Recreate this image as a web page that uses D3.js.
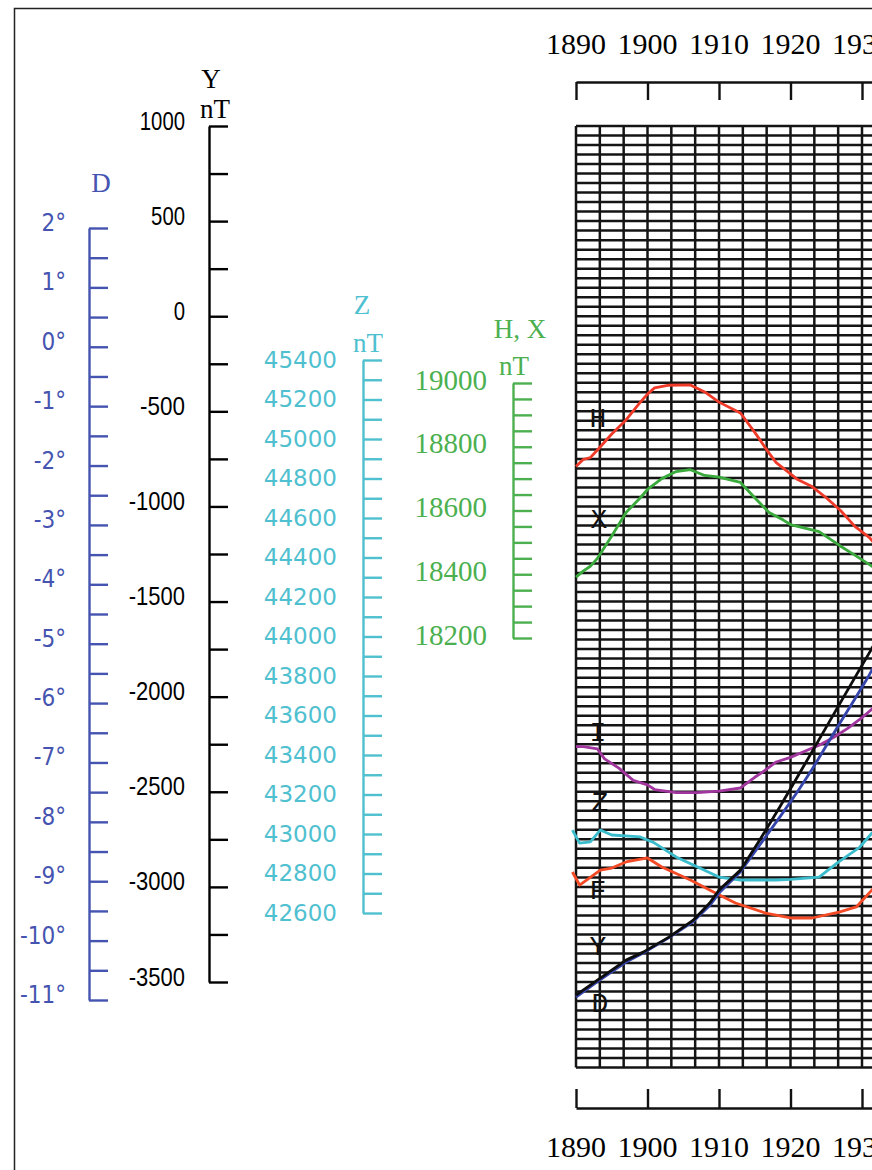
<!DOCTYPE html>
<html lang="en">
    <head>
        <script src="https://d3js.org/d3.v7.min.js"></script>
        <meta charset="UTF-8">
        <title>Geomagnetic secular variation</title>
        <style>
            body {
            margin: 0;
            background-color: #ffffff;
            overflow: hidden;
            }
            .axis path, .axis line {
            stroke: #111;
            stroke-width: 2.4;
            }
            .grid line {
            stroke: #141414;
            stroke-width: 2.5;
            }
            .curve {
            fill: none;
            stroke-width: 2.8;
            stroke-linejoin: round;
            }
        </style>
    </head>
    <body>
        <div id="chart"></div>

        <script>
            // years and values
            const yearTicks = [1890, 1900, 1910, 1920, 1930, 1940, 1950, 1960, 1970, 1980, 1990, 2000];

            const hYears = [1890, 1891, 1892, 1893, 1895, 1897, 1899, 1900, 1901, 1903, 1906, 1908, 1910, 1913, 1915, 1917, 1918, 1920, 1921, 1923, 1925, 1927, 1929, 1931, 1932];
            const hValues = [18738, 18760, 18766, 18790, 18840, 18884, 18940, 18965, 18985, 18993, 18994, 18972, 18940, 18906, 18845, 18780, 18750, 18715, 18697, 18675, 18640, 18600, 18550, 18516, 18490];

            const xYears = [1890, 1891, 1892, 1893, 1895, 1897, 1899, 1900, 1902, 1904, 1906, 1908, 1910, 1913, 1915, 1917, 1919, 1920, 1922, 1924, 1927, 1929, 1931, 1932];
            const xValues = [18391, 18410, 18425, 18450, 18520, 18594, 18640, 18666, 18700, 18722, 18728, 18710, 18705, 18688, 18640, 18594, 18570, 18556, 18545, 18534, 18488, 18460, 18431, 18415];

            const iYears = [1890, 1891, 1893, 1894, 1896, 1898, 1900, 1901, 1904, 1907, 1910, 1913, 1915, 1916, 1918, 1920, 1922, 1924, 1926, 1928, 1930, 1931, 1932];
            const iValues = [66.44, 66.44, 66.425, 66.36, 66.30, 66.22, 66.19, 66.16, 66.14, 66.14, 66.15, 66.17, 66.24, 66.27, 66.34, 66.37, 66.41, 66.45, 66.50, 66.56, 66.63, 66.67, 66.71];

            const zYears = [1889.5, 1890.5, 1892, 1893.4, 1895, 1899, 1901, 1904, 1907, 1910, 1913, 1918, 1920, 1924, 1926.5, 1929.7, 1931.4, 1932];
            const zValues = [43020, 42954, 42960, 43020, 42995, 42985, 42954, 42884, 42833, 42782, 42767, 42767, 42770, 42782, 42853, 42934, 43005, 43030];

            const fYears = [1889.5, 1890.5, 1893.4, 1895, 1897, 1900, 1902, 1906, 1909.5, 1912.3, 1916.5, 1920.2, 1923, 1926.8, 1929.2, 1931.4, 1932];
            const fValues = [46914, 46848, 46924, 46934, 46965, 46985, 46939, 46873, 46808, 46757, 46706, 46681, 46681, 46711, 46737, 46823, 46850];

            const yYears = [1890, 1893, 1897, 1899.4, 1903, 1906.4, 1908.7, 1910, 1913, 1915.7, 1918.5, 1921, 1923, 1925, 1927, 1929, 1931, 1932];
            const yValues = [-3569, -3490, -3385, -3343, -3264, -3175, -3085, -3017, -2912, -2754, -2580, -2420, -2290, -2160, -2030, -1900, -1771, -1705];

            const dYears = [1890, 1893, 1897, 1899.4, 1903, 1906.4, 1908.7, 1910, 1913, 1915.7, 1918.5, 1921, 1923, 1925, 1927, 1929, 1931, 1932];
            const dValues = [-10.95, -10.69, -10.36, -10.21, -9.95, -9.68, -9.41, -9.2, -8.84, -8.39, -7.92, -7.49, -7.12, -6.72, -6.32, -5.93, -5.53, -5.31];

            const dTicks = [2, 1, 0, -1, -2, -3, -4, -5, -6, -7, -8, -9, -10, -11];
            const yTicks = [1000, 500, 0, -500, -1000, -1500, -2000, -2500, -3000, -3500];
            const zTicks = [45400, 45200, 45000, 44800, 44600, 44400, 44200, 44000, 43800, 43600, 43400, 43200, 43000, 42800, 42600];
            const hxTicks = [19000, 18800, 18600, 18400, 18200];

            const width = 872;
            const height = 1170;

            const svg = d3.select("#chart")
                          .append("svg")
                          .attr("width", width)
                          .attr("height", height);

            // outer frame
            svg.append("rect")
               .attr("x", 14.5)
               .attr("y", 8.5)
               .attr("width", 1000)
               .attr("height", 1300)
               .attr("fill", "none")
               .attr("stroke", "#222")
               .attr("stroke-width", 1.5);

            const xScale = d3.scaleLinear().domain([1890, 1930]).range([576, 862]);
            const yScaleY = d3.scaleLinear().domain([1000, -3500]).range([126, 982]);
            const dScale = d3.scaleLinear().domain([2, -11]).range([228, 1000]);
            const zScale = d3.scaleLinear().domain([45400, 42600]).range([360, 913]);
            const hxScale = d3.scaleLinear().domain([19000, 18200]).range([383, 638]);
            const iScale = d3.scaleLinear().domain([67, 66]).range([661, 814]);
            const fScale = d3.scaleLinear().domain([47000, 46000]).range([855, 1052.5]);

            // grid
            const gridLeft = xScale(1890);
            const gridRight = xScale(2000);
            const gridTop = yScaleY(1000);
            const gridBottom = yScaleY(-3950);
            const vLines = d3.range(0, 34).map(i => 1890 + i * 10 / 3);
            const hLines = d3.range(1000, -3951, -50);

            const grid = svg.append("g").attr("class", "grid");
            grid.selectAll(".v")
                .data(vLines)
                .enter()
                .append("line")
                .attr("x1", d => xScale(d))
                .attr("x2", d => xScale(d))
                .attr("y1", gridTop)
                .attr("y2", gridBottom);
            grid.selectAll(".h")
                .data(hLines)
                .enter()
                .append("line")
                .attr("x1", gridLeft)
                .attr("x2", gridRight)
                .attr("y1", d => yScaleY(d))
                .attr("y2", d => yScaleY(d));

            // year axes
            const xAxisScale = d3.scaleLinear().domain([1890, 2000]).range([xScale(1890), xScale(2000)]);
            svg.append("g")
               .attr("class", "axis")
               .attr("transform", "translate(0,82)")
               .call(d3.axisBottom(xAxisScale).tickValues(yearTicks).tickSize(18).tickSizeOuter(0).tickFormat(""));
            svg.append("g")
               .attr("class", "axis")
               .attr("transform", "translate(0,1108)")
               .call(d3.axisTop(xAxisScale).tickValues(yearTicks).tickSize(19).tickSizeOuter(0).tickFormat(""));

            const yearFont = "'Liberation Serif', 'Times New Roman', serif";
            [54, 1157].forEach(base => {
                svg.selectAll(null)
                   .data(yearTicks)
                   .enter()
                   .append("text")
                   .attr("x", d => xScale(d))
                   .attr("y", base)
                   .attr("text-anchor", "middle")
                   .attr("font-family", yearFont)
                   .attr("font-size", "30px")
                   .attr("fill", "#000")
                   .text(d => d);
            });

            // vertical scales: ticks point right, labels sit left of the line
            function sideAxis(scale, x, minor, labels, color, labelX, labelDy, font, size, fmt, charW) {
                const g = svg.append("g")
                             .attr("class", "axis")
                             .attr("transform", `translate(${x},0)`)
                             .call(d3.axisRight(scale).tickValues(minor).tickSize(19).tickSizeOuter(0).tickFormat(""));
                g.selectAll("path, line").style("stroke", color);
                const t = svg.selectAll(null)
                   .data(labels)
                   .enter()
                   .append("text")
                   .attr("x", labelX)
                   .attr("y", d => scale(d) + labelDy)
                   .attr("text-anchor", "end")
                   .attr("dominant-baseline", "middle")
                   .attr("font-family", font)
                   .attr("font-size", size)
                   .attr("fill", color)
                   .text(fmt);
                if (charW) {
                    // squeeze the labels to the narrow face of the original
                    t.attr("textLength", d => String(Math.abs(d)).length * charW + (d < 0 ? 11 : 0))
                     .attr("lengthAdjust", "spacingAndGlyphs");
                }
            }

            const dColor = "#4554b0";
            const zColor = "#4fc0cf";
            const hxColor = "#4cb050";

            sideAxis(dScale, 89, d3.range(2, -11.01, -0.5), dTicks, dColor, 66, -4,
                     "'DejaVu Sans Condensed', 'DejaVu Sans', sans-serif", "24px", d => d + "°");
            sideAxis(yScaleY, 209, d3.range(1000, -3501, -250), yTicks, "#000", 185, -3,
                     "'Liberation Sans', sans-serif", "25px", d => d, 11.3);
            sideAxis(zScale, 363, d3.range(45400, 42599, -100), zTicks, zColor, 337, 1,
                     "'DejaVu Sans', sans-serif", "23px", d => d);
            sideAxis(hxScale, 513, d3.range(19000, 18199, -50), hxTicks, hxColor, 487, 0,
                     "'Liberation Serif', serif", "29px", d => d);

            // axis titles
            const titles = [
                { t: "D", x: 101, y: 192, c: dColor },
                { t: "Y", x: 211, y: 88, c: "#000" },
                { t: "nT", x: 215, y: 118, c: "#000" },
                { t: "Z", x: 362, y: 314, c: zColor },
                { t: "nT", x: 368, y: 352, c: zColor },
                { t: "H, X", x: 520, y: 338, c: hxColor },
                { t: "nT", x: 514, y: 375, c: hxColor }
            ];
            svg.selectAll(".title")
               .data(titles)
               .enter()
               .append("text")
               .attr("x", d => d.x)
               .attr("y", d => d.y)
               .attr("text-anchor", "middle")
               .attr("font-family", "'Liberation Serif', serif")
               .attr("font-size", "27px")
               .attr("fill", d => d.c)
               .text(d => d.t);

            // curves
            const series = [
                { name: "H", years: hYears, values: hValues, scale: hxScale, color: "#ef3a2a" },
                { name: "X", years: xYears, values: xValues, scale: hxScale, color: "#3aaa3c" },
                { name: "I", years: iYears, values: iValues, scale: iScale, color: "#a0359e" },
                { name: "Z", years: zYears, values: zValues, scale: zScale, color: "#3bbccc" },
                { name: "F", years: fYears, values: fValues, scale: fScale, color: "#f44a26" },
                { name: "D", years: dYears, values: dValues, scale: dScale, color: "#3444aa" },
                { name: "Y", years: yYears, values: yValues, scale: yScaleY, color: "#0d0d0d" }
            ];

            series.forEach(s => {
                const line = d3.line()
                               .x((d, i) => xScale(s.years[i]))
                               .y(d => s.scale(d));
                svg.append("path")
                   .attr("class", "curve")
                   .attr("d", line(s.values))
                   .attr("stroke", s.color);
            });

            // curve names
            const curveNames = [
                { t: "H", x: 598, y: 427 },
                { t: "X", x: 599, y: 528 },
                { t: "I", x: 598, y: 741 },
                { t: "Z", x: 600, y: 811 },
                { t: "F", x: 598, y: 899 },
                { t: "Y", x: 598, y: 955 },
                { t: "D", x: 600, y: 1012 }
            ];
            svg.selectAll(".cname")
               .data(curveNames)
               .enter()
               .append("text")
               .attr("x", d => d.x)
               .attr("y", d => d.y)
               .attr("text-anchor", "middle")
               .attr("font-family", "'Liberation Mono', 'Courier New', monospace")
               .attr("font-size", "28px")
               .attr("fill", "#111")
               .text(d => d.t);
        </script>
    </body>
</html>
